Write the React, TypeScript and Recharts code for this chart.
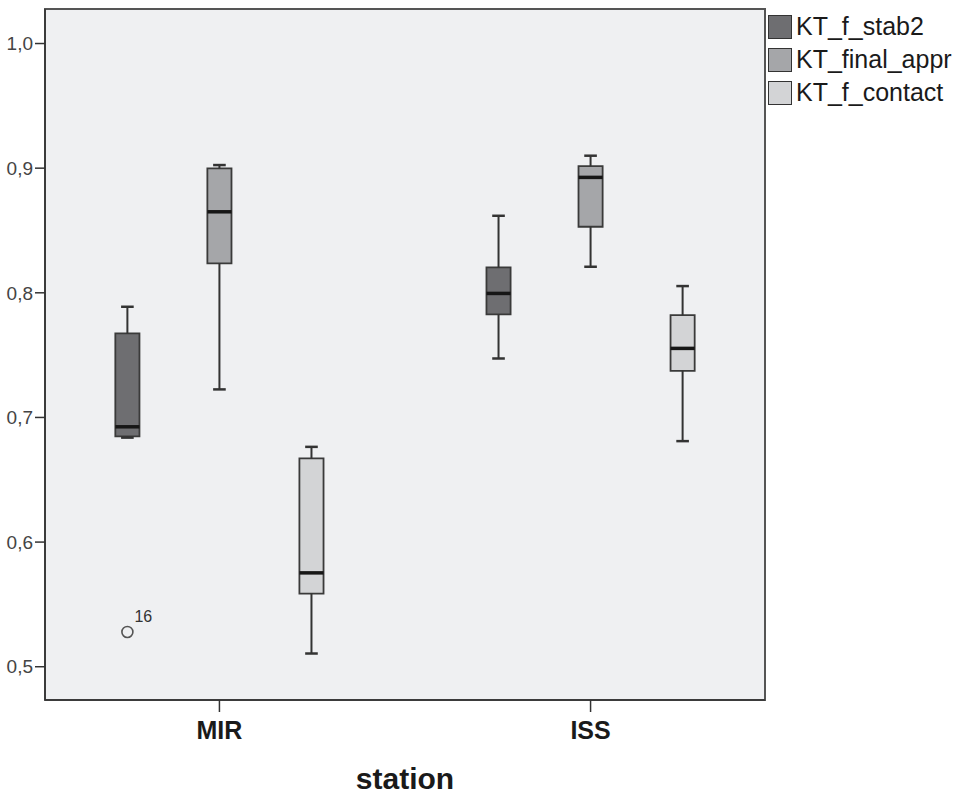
import {
  ComposedChart,
  XAxis,
  YAxis,
  ReferenceArea,
  ReferenceLine,
  Scatter,
  Label,
} from "recharts";

const stations = ["MIR", "ISS"];
const seriesNames = ["KT_f_stab2", "KT_final_appr", "KT_f_contact"];
const seriesColors = ["#6e6e71", "#a5a6a9", "#d3d4d6"];

// [min, q1, median, q3, max] per station
const stab2 = [
  [0.6838, 0.6848, 0.6925, 0.7674, 0.7888],
  [0.7473, 0.7827, 0.7995, 0.8204, 0.8618],
];
const finalAppr = [
  [0.7225, 0.8236, 0.865, 0.8998, 0.9025],
  [0.8209, 0.853, 0.8926, 0.9017, 0.91],
];
const fContact = [
  [0.5106, 0.5587, 0.5753, 0.6671, 0.6764],
  [0.681, 0.7374, 0.7554, 0.7821, 0.8054],
];
const outliers = [{ station: 0, series: 0, value: 0.5279, label: "16" }];

const yTicks = [0.5, 0.6, 0.7, 0.8, 0.9, 1.0];
const allSeries = [stab2, finalAppr, fContact];

const X_DOMAIN: [number, number] = [-0.47, 1.47];
const Y_DOMAIN: [number, number] = [0.4733, 1.0277];
const OFFSETS = [-0.248, 0, 0.248];
const HALF_BOX = 0.0325;
const HALF_CAP = 0.017;
const FONT = "'Liberation Sans', Arial, sans-serif";

const outlierData = outliers.map((o) => ({
  x: o.station + OFFSETS[o.series],
  y: o.value,
  label: o.label,
}));

function OutlierShape(props: any) {
  const { cx, cy, payload } = props;
  return (
    <g>
      <circle cx={cx} cy={cy} r={5.5} fill="none" stroke="#555" strokeWidth={1.6} />
      <text x={cx + 7} y={cy - 10} fontSize={16} fill="#333" fontFamily={FONT}>
        {payload.label}
      </text>
    </g>
  );
}

function ChartLegend() {
  return (
    <div style={{ position: "absolute", left: 768, top: 10, fontFamily: FONT }}>
      {seriesNames.map((name, i) => (
        <div key={name} style={{ display: "flex", alignItems: "center", height: 33 }}>
          <span
            style={{
              width: 22,
              height: 22,
              background: seriesColors[i],
              border: "1.5px solid #333",
              display: "inline-block",
              marginRight: 4,
            }}
          />
          <span style={{ fontSize: 25, color: "#1a1a1a" }}>{name}</span>
        </div>
      ))}
    </div>
  );
}

export default function App() {
  const boxes: any[] = [];
  allSeries.forEach((ser, si) => {
    ser.forEach((st, xi) => {
      const [mn, q1, med, q3, mx] = st;
      const cx = xi + OFFSETS[si];
      const k = `${si}-${xi}`;
      boxes.push(
        <ReferenceLine
          key={`wu${k}`}
          segment={[{ x: cx, y: q3 }, { x: cx, y: mx }]}
          stroke="#333"
          strokeWidth={2}
        />,
        <ReferenceLine
          key={`cu${k}`}
          segment={[{ x: cx - HALF_CAP, y: mx }, { x: cx + HALF_CAP, y: mx }]}
          stroke="#333"
          strokeWidth={2.5}
        />,
        <ReferenceLine
          key={`wl${k}`}
          segment={[{ x: cx, y: mn }, { x: cx, y: q1 }]}
          stroke="#333"
          strokeWidth={2}
        />,
        <ReferenceLine
          key={`cl${k}`}
          segment={[{ x: cx - HALF_CAP, y: mn }, { x: cx + HALF_CAP, y: mn }]}
          stroke="#333"
          strokeWidth={2.5}
        />,
        <ReferenceArea
          key={`b${k}`}
          x1={cx - HALF_BOX}
          x2={cx + HALF_BOX}
          y1={q1}
          y2={q3}
          fill={seriesColors[si]}
          fillOpacity={1}
          stroke="#3a3a3a"
          strokeWidth={1.8}
        />,
        <ReferenceLine
          key={`m${k}`}
          segment={[{ x: cx - HALF_BOX, y: med }, { x: cx + HALF_BOX, y: med }]}
          stroke="#161616"
          strokeWidth={3.5}
        />
      );
    });
  });

  return (
    <div style={{ position: "fixed", left: 0, top: 0, width: 973, height: 795, background: "#fff" }}>
      <ComposedChart
        width={973}
        height={795}
        margin={{ top: 9, right: 208, left: 0, bottom: 0 }}
      >
        <XAxis
          type="number"
          dataKey="x"
          domain={X_DOMAIN}
          ticks={[0, 1]}
          tickFormatter={(v: number) => stations[v] ?? ""}
          allowDataOverflow
          height={95}
          tickSize={12}
          stroke="#333"
          strokeWidth={1.5}
          tick={{ fill: "#1a1a1a", fontSize: 25, fontWeight: "bold", fontFamily: FONT }}
          tickMargin={9}
        >
          <Label
            value="station"
            position="insideBottom"
            offset={6}
            style={{ fontSize: 30, fontWeight: "bold", fill: "#1a1a1a", fontFamily: FONT }}
          />
        </XAxis>
        <YAxis
          type="number"
          dataKey="y"
          domain={Y_DOMAIN}
          ticks={yTicks}
          allowDataOverflow
          width={45}
          tickSize={10}
          stroke="#333"
          strokeWidth={1.5}
          tickFormatter={(v: number) => v.toFixed(1).replace(".", ",")}
          tick={{ fill: "#444", fontSize: 19, fontFamily: FONT }}
          tickMargin={2}
        />
        <ReferenceArea
          x1={X_DOMAIN[0]}
          x2={X_DOMAIN[1]}
          y1={Y_DOMAIN[0]}
          y2={Y_DOMAIN[1]}
          fill="#eff0f2"
          fillOpacity={1}
          stroke="#555"
          strokeWidth={2}
        />
        {boxes}
        <Scatter
          data={outlierData}
          dataKey="y"
          shape={<OutlierShape />}
          isAnimationActive={false}
          legendType="none"
        />
      </ComposedChart>
      <ChartLegend />
    </div>
  );
}
